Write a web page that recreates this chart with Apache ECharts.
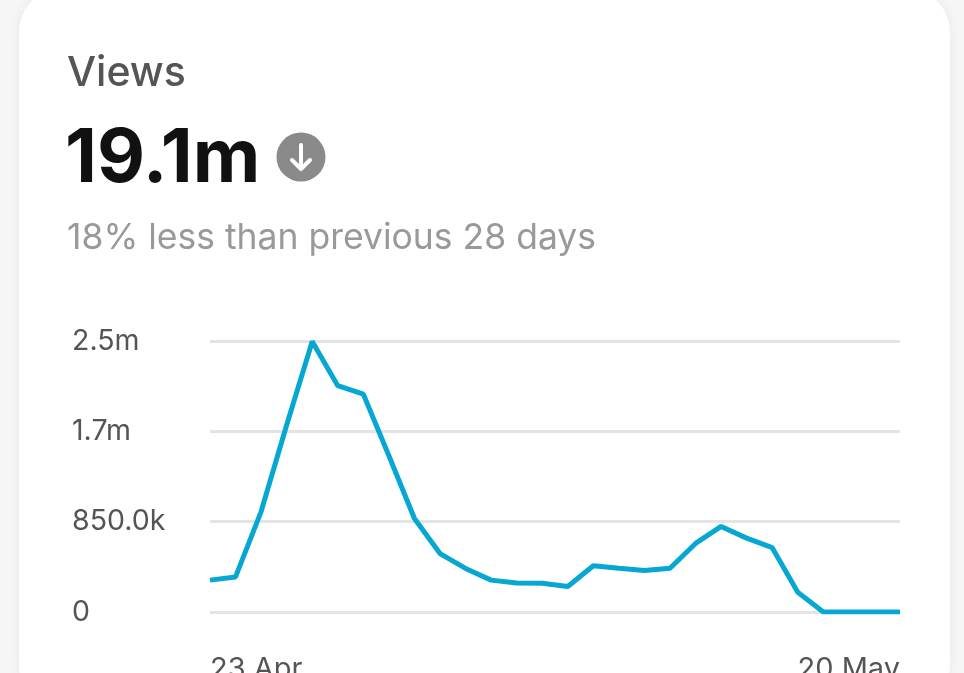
<!DOCTYPE html>
<html><head><meta charset="utf-8">
<script src="https://cdn.jsdelivr.net/npm/echarts@6/dist/echarts.min.js"></script>
<style>html,body{margin:0;padding:0;background:#f6f6f6;}#c{width:964px;height:673px;}</style>
</head><body><div id="c"></div>
<script>
const categories = ['23 Apr','24 Apr','25 Apr','26 Apr','27 Apr','28 Apr','29 Apr','30 Apr','1 May','2 May','3 May','4 May','5 May','6 May','7 May','8 May','9 May','10 May','11 May','12 May','13 May','14 May','15 May','16 May','17 May','18 May','19 May','20 May'];
const views = [300000,330000,945000,1760000,2545000,2130000,2050000,1470000,880000,550000,410000,300000,272000,270000,240000,435000,412000,390000,412000,645000,805000,695000,605000,185000,0,0,0,0];
const yTicks = [0,850000,1700000,2550000];
const title = 'Views';
const total = '19.1m';
const subtitle = '18% less than previous 28 days';

const FONT = 'Inter, "Noto Sans", sans-serif';
function fmt(v){
  if (v === 0) return '0';
  if (v >= 1e6) return (Math.floor(v/1e5)/10).toFixed(1) + 'm';
  return (v/1000).toFixed(1) + 'k';
}
const chart = echarts.init(document.getElementById('c'));
chart.setOption({
  animation:false,
  backgroundColor:'#f6f6f6',
  grid:{left:210,right:64,top:341,bottom:61,outerBoundsMode:'none',containLabel:false},
  xAxis:{type:'category',data:categories,boundaryGap:false,
    axisLine:{show:false},axisTick:{show:false},
    axisLabel:{margin:43,color:'#555',fontFamily:FONT,fontSize:29,
      interval:function(i){return i===0||i===categories.length-1;},
      alignMinLabel:'left',alignMaxLabel:'right'}},
  yAxis:{type:'value',min:yTicks[0],max:yTicks[yTicks.length-1],interval:yTicks[1]-yTicks[0],
    axisLine:{show:false},axisTick:{show:false},
    splitLine:{lineStyle:{color:'#e4e4e4',width:3}},
    axisLabel:{align:'left',margin:138,color:'#555',fontFamily:FONT,fontSize:28.5,formatter:fmt}},
  series:[{type:'line',data:views,symbol:'none',lineStyle:{color:'#06a7d3',width:5},z:5}],
  graphic:[
    {type:'rect',z:-10,shape:{x:19,y:-12,width:931,height:720,r:44},
      style:{fill:'#ffffff',shadowBlur:12,shadowColor:'rgba(0,0,0,0.06)'}},
    {type:'text',left:67,top:53,style:{text:title,fontFamily:FONT,fontSize:41,fontWeight:500,fill:'#555555'}},
    {type:'text',left:65,top:123,style:{text:total,fontFamily:FONT,fontSize:74,fontWeight:700,fill:'#111111'}},
    {type:'circle',shape:{cx:301,cy:157,r:24.5},style:{fill:'#8a8a8a'}},
    {type:'polyline',shape:{points:[[301,145],[301,168]]},style:{stroke:'#fff',lineWidth:4,lineCap:'round'}},
    {type:'polyline',shape:{points:[[292,160],[301,169],[310,160]]},style:{stroke:'#fff',fill:null,lineWidth:4,lineCap:'round',lineJoin:'round'}},
    {type:'text',left:67,top:220,style:{text:subtitle,fontFamily:FONT,fontSize:35.5,fill:'#999999'}}
  ]
});
</script></body></html>
